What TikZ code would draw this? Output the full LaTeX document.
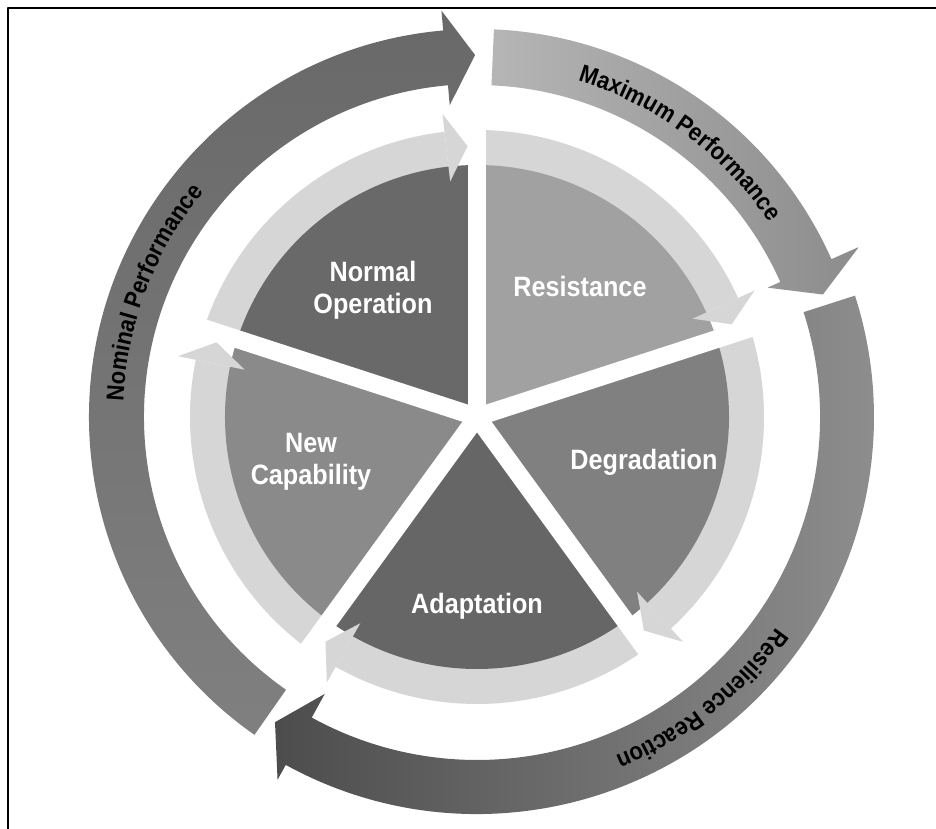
\documentclass[tikz,border=0pt]{standalone}
\usepackage{fontspec}
\setmainfont{Liberation Sans}[FakeStretch=0.9]
\usetikzlibrary{decorations.text}
\definecolor{bandgray}{gray}{0.84}
\definecolor{normalgray}{gray}{0.41}
\definecolor{resistgray}{gray}{0.63}
\definecolor{degradgray}{gray}{0.50}
\definecolor{adaptgray}{gray}{0.40}
\definecolor{newcapgray}{gray}{0.54}
\definecolor{nomdark}{gray}{0.41}
\definecolor{nomlight}{gray}{0.50}
\definecolor{maxlight}{gray}{0.71}
\definecolor{maxdark}{gray}{0.55}
\definecolor{reslight}{gray}{0.56}
\definecolor{resdark}{gray}{0.30}
\begin{document}
\begin{tikzpicture}[x=1pt, y=1pt, line join=round,
	seglabel/.style={text=white, font=\fontsize{28}{31.5}\selectfont\bfseries, align=center},
	ringtext/.style={decorate, decoration={text along path, text align=center,
		text={|\fontsize{24.5}{24.5}\selectfont\bfseries|#1}}},
	gapline/.style={white, line width=18pt}]
	\useasboundingbox (-477,-412) rectangle (459,417);
	\fill[white] (-477,-412) rectangle (459,417);
	\draw[line width=1.6pt] (-469,-412) -- (-469,409) -- (459,409);
	% five sectors, each with a light band ending in a head
	\foreach \s/\col in {162/normalgray, 90/resistgray, 18/degradgray, -54/adaptgray, -126/newcapgray}{
		\pgfmathsetmacro{\segend}{\s-72}
		\pgfmathsetmacro{\headback}{\s-65.5}
		\fill[bandgray] (0,0) -- (\s:287) arc[start angle=\s, end angle=\headback, radius=287] -- cycle;
		\fill[\col] (0,0) -- (\s:252) arc[start angle=\s, end angle=\segend, radius=252] -- cycle;
		\fill[bandgray] (\headback:237) -- ({\segend+2}:271) -- (\headback:305) -- cycle;
	}
	\foreach \s in {90,18,-54,-126,162}
		\draw[gapline] (0,0) -- (\s:310);
	% outer ring arrows
	\shade[top color=nomdark, bottom color=nomlight]
		(235:333) arc[start angle=235, end angle=95, radius=333] -- (95:313) -- (90.3:362)
		-- (95:408) -- (95:388) arc[start angle=95, end angle=235, radius=388] -- cycle;
	\shade[left color=maxlight, right color=maxdark]
		(87.5:332) arc[start angle=87.5, end angle=24, radius=332] -- (24:318) -- (19.5:367)
		-- (24:418) -- (24:388) arc[start angle=24, end angle=87.5, radius=388] -- cycle;
	\shade[left color=resdark, right color=reslight]
		(17.8:343) arc[start angle=17.8, end angle=-118.8, radius=343] -- (-118.8:316) -- (-123.5:366)
		-- (-118.8:414) -- (-118.8:397) arc[start angle=-118.8, end angle=17.8, radius=397] -- cycle;
	\path[ringtext=Nominal Performance] (189:354) arc[start angle=189, end angle=129, radius=354];
	\path[ringtext=Maximum Performance] (83.5:351) arc[start angle=83.5, end angle=23.5, radius=351];
	\path[ringtext=Resilience Reaction] (-21.5:366) arc[start angle=-21.5, end angle=-81.5, radius=366];
	% sector labels
	\node[seglabel] (normal) at (-104,126.7) {Normal\\Operation};
	\node[seglabel, anchor=base] (resist) at (103,120) {Resistance};
	\node[seglabel, anchor=base] (degrad) at (167,-53) {Degradation};
	\node[seglabel, anchor=base] (adapt) at (0,-196) {Adaptation};
	\node[seglabel] (newcap) at (-166,-44.8) {New\\Capability};
\end{tikzpicture}
\end{document}
